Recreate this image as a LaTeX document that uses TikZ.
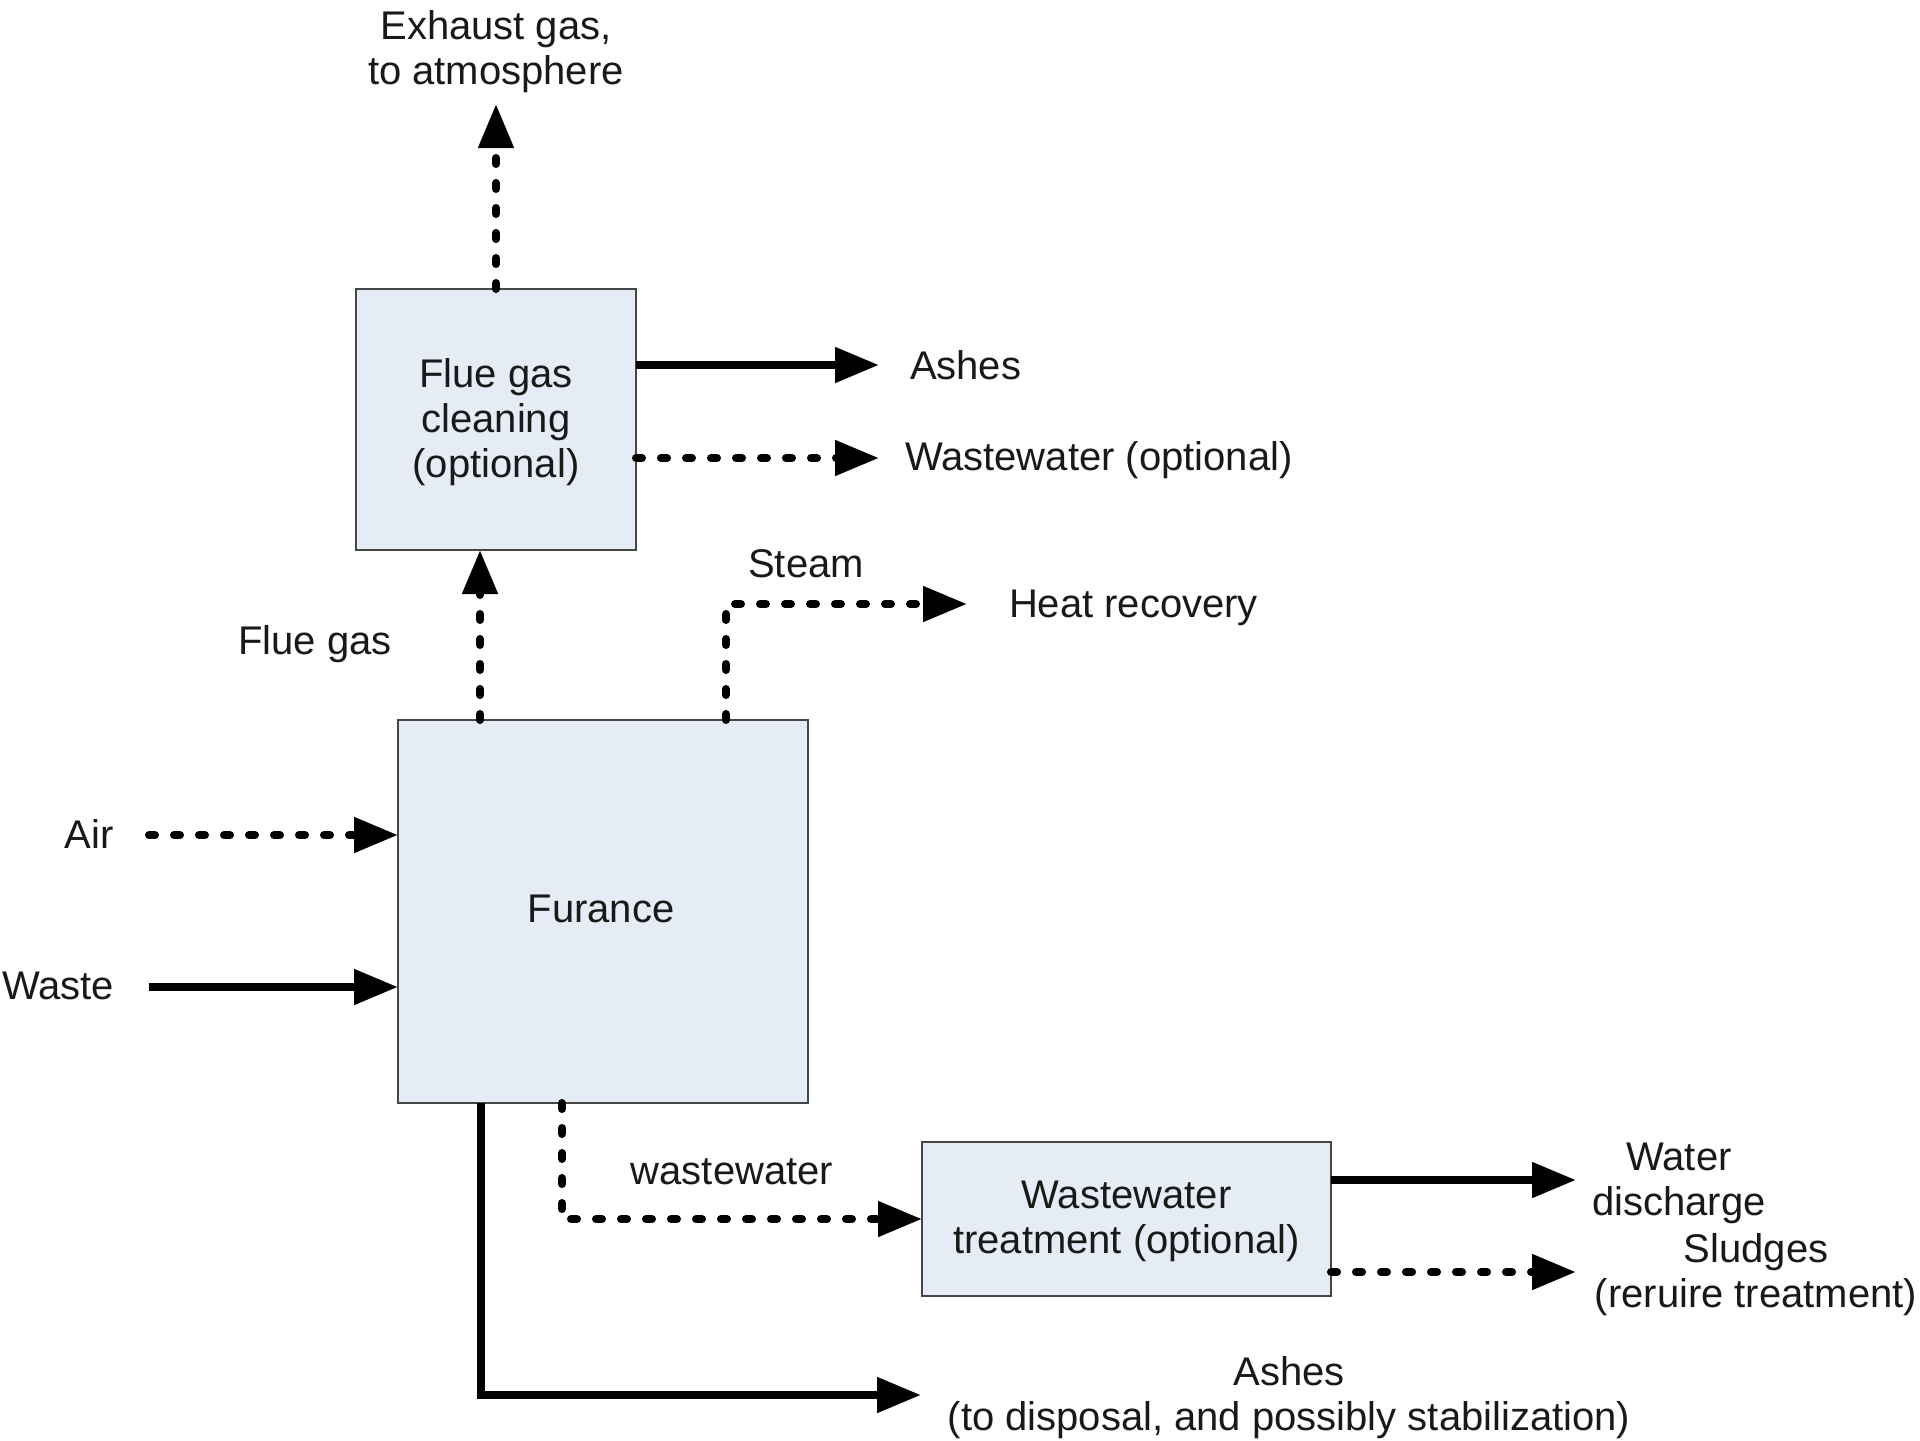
\documentclass[tikz,border=0pt]{standalone}
\usepackage{fontspec}
\setmainfont{Liberation Sans}
\usetikzlibrary{arrows.meta}
\definecolor{boxfill}{RGB}{230,236,246}
\definecolor{boxline}{RGB}{70,70,70}
\definecolor{txt}{RGB}{25,25,25}
\begin{document}
\begin{tikzpicture}[x=0.5pt,y=-0.5pt,
  every node/.style={font=\fontsize{20}{22.5}\selectfont, text=txt, inner sep=0pt, outer sep=0pt},
  procbox/.style={draw=boxline, fill=boxfill, line width=1pt, align=center},
  solidarr/.style={line width=4pt, -{Triangle[length=22pt,width=17pt]}},
  dasharr/.style={line width=4pt, line cap=round, dash pattern=on 3pt off 9.5pt, -{Triangle[length=22pt,width=17pt]}},
  lbl/.style={align=center}]
\useasboundingbox (0,0) rectangle (1920,1440);
\fill[white] (0,0) rectangle (1920,1440);

% boxes
\node[procbox, minimum width=140pt, minimum height=130.5pt] (flue) at (496,419.5) {};
\node (fluetext) at (496,422) [align=center] {Flue gas\\cleaning\\(optional)};
\node[procbox, minimum width=205pt, minimum height=191.5pt] (furn) at (603,911.5) {};
\node (furntext) at (601,909) {Furance};
\node[procbox, minimum width=204.5pt, minimum height=77pt] (wwt) at (1126.5,1219) {};
\node (wwttext) at (1126.5,1221) [align=center] {Wastewater\\treatment (optional)};

% free ends
\coordinate (exh) at (496,104);
\coordinate (ash1) at (879,365);
\coordinate (ww1) at (879,458);
\coordinate (fgx) at (480,0);
\coordinate (stx) at (726,0);
\coordinate (st) at (967,604);
\coordinate (air) at (149,835);
\coordinate (waste) at (149,987);
\coordinate (wwx) at (562,0);
\coordinate (ashx) at (481,0);
\coordinate (ash2) at (921,1395);
\coordinate (wd) at (1576,1180);
\coordinate (sl) at (1576,1272);

% connectors
\draw[dasharr] (flue.north) -- (exh);
\draw[solidarr] (flue.east |- ash1) -- (ash1);
\draw[dasharr] (flue.east |- ww1) -- (ww1);
\draw[dasharr] (furn.north -| fgx) -- (flue.south -| fgx);
\draw[dasharr] (furn.north -| stx) |- (st);
\draw[dasharr] (air) -- (furn.west |- air);
\draw[solidarr] (waste) -- (furn.west |- waste);
\draw[dasharr] (furn.south -| wwx) |- (wwt.west);
\draw[solidarr] (furn.south -| ashx) |- (ash2);
\draw[solidarr] (wwt.east |- wd) -- (wd);
\draw[dasharr] (wwt.east |- sl) -- (sl);

% labels
\node[lbl] (lexh) at (496,52) {Exhaust gas,\\to atmosphere};
\node[anchor=west] (lash1) at (910,365) {Ashes};
\node[anchor=west] (lww1) at (905,460) {Wastewater (optional)};
\node (lfg) at (315,644) {Flue gas};
\node (lst) at (806,564) {Steam};
\node[anchor=west] (lhr) at (1009,608) {Heat recovery};
\node (lair) at (89,834) {Air};
\node (lwaste) at (58,986) {Waste};
\node (lww) at (732,1172) {wastewater};
\node[lbl] (lwd) at (1679,1183) {Water\\discharge};
\node[lbl] (lsl) at (1756,1275) {Sludges\\(reruire treatment)};
\node[lbl] (lash2) at (1289,1398) {Ashes\\(to disposal, and possibly stabilization)};
\end{tikzpicture}
\end{document}
